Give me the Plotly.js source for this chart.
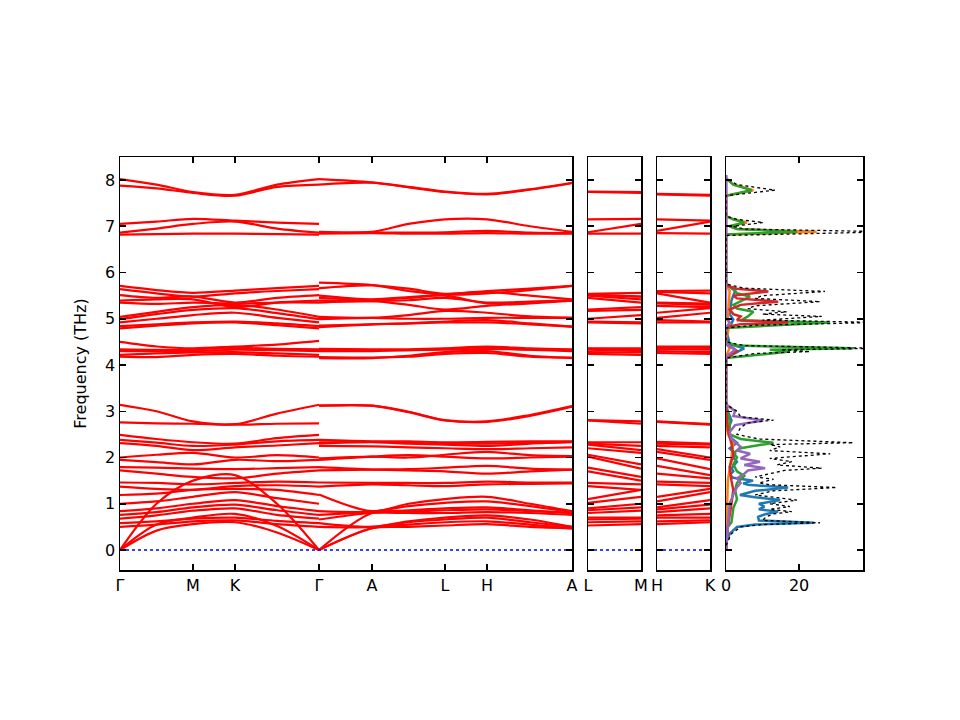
<!DOCTYPE html>
<html><head><meta charset="utf-8">
<script src="https://cdn.plot.ly/plotly-3.0.1.min.js"></script>
<style>body{margin:0;background:#fff}#c{width:960px;height:720px}</style>
</head><body><div id="c"></div>
<script>
// path positions (high-symmetry points) for Γ-M-K-Γ and Γ-A-L-H-A
const xGMKG = [0, 0.365, 0.73, 1.15, 1.57, 1.99];
const xGALHA = [1.99, 2.52, 2.885, 3.25, 3.67, 4.1, 4.52];
const xSide = [0, 0.53];
const tickPos1 = [0, 0.73, 1.15, 1.99, 2.52, 3.25, 3.67, 4.52];
const tickLab1 = ['Γ', 'M', 'K', 'Γ', 'A', 'L', 'H', 'A'];
const tickLabLM = ['L', 'M'];
const tickLabHK = ['H', 'K'];
const freqTicks = [0, 1, 2, 3, 4, 5, 6, 7, 8];
const dosTicks = [0, 20, 40];

// band frequencies (THz) at Γ, mid, M, K, mid, Γ
const bandsGMKG = [
 [0, 0.42, 0.56, 0.6, 0.38, 0],
 [0, 0.55, 0.7, 0.78, 0.52, 0],
 [0, 1.0, 1.5, 1.62, 1.0, 0],
 [0.5, 0.55, 0.62, 0.64, 0.56, 0.5],
 [0.58, 0.62, 0.68, 0.7, 0.63, 0.58],
 [0.68, 0.75, 0.85, 0.9, 0.76, 0.68],
 [0.76, 0.82, 0.92, 0.98, 0.86, 0.76],
 [0.84, 0.9, 1.0, 1.08, 0.95, 0.84],
 [1.0, 1.05, 1.15, 1.25, 1.12, 1.0],
 [1.19, 1.22, 1.3, 1.32, 1.3, 1.19],
 [1.37, 1.32, 1.3, 1.38, 1.4, 1.37],
 [1.46, 1.45, 1.42, 1.45, 1.48, 1.46],
 [1.72, 1.65, 1.58, 1.55, 1.65, 1.72],
 [1.79, 1.78, 1.76, 1.75, 1.77, 1.79],
 [1.95, 1.9, 1.85, 1.95, 1.92, 1.95],
 [2.0, 2.06, 2.1, 2.0, 2.05, 2.0],
 [2.31, 2.25, 2.16, 2.22, 2.26, 2.31],
 [2.38, 2.32, 2.25, 2.28, 2.35, 2.38],
 [2.49, 2.4, 2.33, 2.3, 2.42, 2.49],
 [2.76, 2.74, 2.73, 2.71, 2.73, 2.74],
 [3.14, 3.0, 2.78, 2.72, 2.95, 3.14],
 [4.18, 4.17, 4.22, 4.24, 4.2, 4.18],
 [4.22, 4.25, 4.27, 4.28, 4.25, 4.22],
 [4.3, 4.3, 4.3, 4.33, 4.32, 4.3],
 [4.34, 4.33, 4.34, 4.37, 4.35, 4.34],
 [4.5, 4.4, 4.36, 4.4, 4.44, 4.52],
 [4.79, 4.85, 4.9, 4.92, 4.86, 4.79],
 [4.84, 4.88, 4.92, 4.94, 4.9, 4.84],
 [4.92, 5.0, 5.08, 5.13, 5.02, 4.92],
 [4.99, 5.1, 5.19, 5.23, 5.12, 4.99],
 [5.04, 5.15, 5.25, 5.3, 5.2, 5.04],
 [5.35, 5.32, 5.35, 5.33, 5.35, 5.35],
 [5.39, 5.42, 5.42, 5.25, 5.35, 5.39],
 [5.51, 5.45, 5.48, 5.35, 5.45, 5.51],
 [5.64, 5.55, 5.48, 5.55, 5.6, 5.64],
 [5.71, 5.62, 5.56, 5.61, 5.66, 5.71],
 [6.82, 6.83, 6.84, 6.84, 6.83, 6.82],
 [6.86, 6.95, 7.05, 7.1, 6.95, 6.86],
 [7.05, 7.1, 7.16, 7.12, 7.08, 7.05],
 [7.88, 7.82, 7.72, 7.66, 7.85, 7.9],
 [8.02, 7.9, 7.74, 7.68, 7.9, 8.02]
];
// band frequencies (THz) at Γ, A, mid, L, H, mid, A
const bandsGALHA = [
 [0, 0.47, 0.5, 0.53, 0.56, 0.5, 0.47],
 [0, 0.47, 0.55, 0.6, 0.62, 0.55, 0.47],
 [0, 0.8, 0.83, 0.86, 0.88, 0.84, 0.8],
 [0.5, 0.5, 0.6, 0.66, 0.7, 0.6, 0.5],
 [0.58, 0.5, 0.62, 0.7, 0.75, 0.66, 0.5],
 [0.66, 0.8, 0.8, 0.8, 0.82, 0.8, 0.76],
 [0.76, 0.82, 0.86, 0.9, 0.92, 0.86, 0.8],
 [0.84, 0.83, 0.95, 1.02, 1.05, 0.95, 0.82],
 [1.2, 0.84, 1.0, 1.1, 1.15, 1.0, 0.84],
 [1.37, 1.42, 1.4, 1.38, 1.42, 1.43, 1.44],
 [1.46, 1.45, 1.45, 1.45, 1.48, 1.46, 1.46],
 [1.72, 1.74, 1.75, 1.78, 1.82, 1.76, 1.74],
 [1.79, 1.74, 1.72, 1.7, 1.65, 1.7, 1.74],
 [1.95, 2.02, 2.05, 2.02, 1.98, 2.0, 2.02],
 [1.98, 2.02, 2.0, 2.06, 2.12, 2.05, 2.03],
 [2.25, 2.24, 2.22, 2.2, 2.18, 2.2, 2.22],
 [2.3, 2.33, 2.3, 2.28, 2.25, 2.3, 2.33],
 [2.33, 2.34, 2.32, 2.3, 2.3, 2.32, 2.34],
 [2.38, 2.35, 2.35, 2.33, 2.34, 2.35, 2.35],
 [3.12, 3.12, 2.98, 2.8, 2.77, 2.9, 3.1],
 [3.12, 3.12, 2.99, 2.81, 2.78, 2.92, 3.11],
 [4.15, 4.15, 4.2, 4.28, 4.3, 4.2, 4.15],
 [4.17, 4.16, 4.18, 4.24, 4.26, 4.18, 4.16],
 [4.3, 4.3, 4.32, 4.35, 4.38, 4.33, 4.3],
 [4.33, 4.32, 4.32, 4.33, 4.35, 4.33, 4.32],
 [4.35, 4.34, 4.34, 4.36, 4.4, 4.36, 4.34],
 [4.82, 4.88, 4.9, 4.92, 4.92, 4.88, 4.83],
 [4.85, 4.88, 4.9, 4.94, 4.97, 4.9, 4.83],
 [4.99, 5.02, 5.0, 5.0, 5.02, 5.02, 5.02],
 [5.04, 5.02, 5.08, 5.17, 5.13, 5.05, 5.02],
 [5.35, 5.38, 5.3, 5.2, 5.28, 5.33, 5.39],
 [5.39, 5.38, 5.4, 5.45, 5.35, 5.37, 5.39],
 [5.45, 5.41, 5.45, 5.5, 5.33, 5.36, 5.4],
 [5.5, 5.42, 5.47, 5.52, 5.58, 5.5, 5.42],
 [5.66, 5.72, 5.6, 5.52, 5.55, 5.62, 5.71],
 [5.78, 5.73, 5.65, 5.54, 5.6, 5.65, 5.71],
 [6.84, 6.85, 6.84, 6.84, 6.85, 6.84, 6.84],
 [6.86, 6.87, 6.86, 6.87, 6.9, 6.86, 6.85],
 [6.88, 6.88, 7.05, 7.15, 7.15, 7.0, 6.88],
 [7.9, 7.94, 7.84, 7.74, 7.69, 7.79, 7.93],
 [8.02, 7.95, 7.85, 7.75, 7.7, 7.8, 7.94]
];
const zeroFreq = [0, 0];

// projected DOS: frequency (THz) and DOS values per species
const fBlue = [0,0.15,0.35,0.5,0.55,0.59,0.64,0.72,0.78,0.83,0.88,0.94,1.0,1.08,1.14,1.19,1.28,1.35,1.41,1.44,1.5,1.56,1.62,1.7,1.77,1.91,2.0,2.08,2.2,2.32,2.45,2.6,2.8,3.0,3.15,4.15,4.3,4.36,4.45,4.8,4.9,4.98,5.1,5.4,5.6,5.75,8.1];
const dBlue = [0,0,1,3,8,23.9,9,8.8,11,14.3,9,10.5,9,14.8,8,3.8,8,17,6,4.7,7.4,2,1,2,1.5,3,2,2.5,1,3,1,0.5,1.5,0.5,0,0,3.5,5,1,0,1.5,2,1,1.5,2.5,0,0];
const fOrange = [0,1.5,1.75,2.0,2.3,2.5,3.1,4.2,4.36,4.5,4.9,5.0,5.6,5.75,6.82,6.88,6.94,7.0,7.08,7.15,7.22,7.66,7.78,7.9,8.04];
const dOrange = [0,0.5,1,1.5,2,0.5,0,0,1,0,1,0.5,1,0,0,24.8,3,1,5.7,2,0,0,7.5,2,0];
const fGreen = [0,0.5,0.6,0.9,1.1,1.3,1.45,1.6,1.7,1.85,2.0,2.1,2.2,2.32,2.4,2.5,2.8,3.1,4.15,4.29,4.33,4.36,4.42,4.5,4.8,4.92,4.96,5.05,5.15,5.22,5.3,5.48,5.55,5.65,5.75,6.82,6.88,6.94,7.0,7.08,7.15,7.22,7.66,7.78,7.9,8.04];
const dGreen = [0,0.5,1.5,2,3,2.5,3,5,3,2,3,2,4,13,4,1,1,0,0,17.5,12,34.9,3,0,0,28.5,4,6,7.5,3,2,6.6,3,2,0,0,19.4,3,1,5,2,0,0,7,2,0];
const fRed = [0,0.5,1.0,1.3,1.5,1.8,2.05,2.3,2.6,3.1,4.15,4.3,4.36,4.45,4.82,4.88,4.92,4.97,5.05,5.1,5.2,5.3,5.37,5.44,5.5,5.59,5.65,5.72,8.1];
const dRed = [0,0.5,1.5,2,1.5,1,2,1.5,0.5,0,0,3,2,0,0,4,17,3,4,2,1,4,14.3,3,2,11.6,3,0,0];
const fPurple = [0,0.6,1.0,1.2,1.36,1.45,1.55,1.65,1.72,1.77,1.84,1.91,1.98,2.08,2.15,2.23,2.3,2.4,2.55,2.7,2.8,2.9,3.0,3.08,3.15,4.18,4.33,4.45,4.8,4.92,5.0,5.7,8.1];
const dPurple = [0,0.5,1,2,3,4,3,5,6,10.7,5,9.3,4,6.6,3,4,3,1.5,1,2.5,10.2,2,2.5,1,0,0,2.5,0,0,1,0,0,0];
const fTotal = [0.1,0.35,0.5,0.55,0.59,0.64,0.72,0.78,0.83,0.88,0.94,1.0,1.08,1.14,1.19,1.28,1.35,1.41,1.45,1.53,1.58,1.65,1.72,1.77,1.84,1.91,1.98,2.08,2.15,2.23,2.28,2.32,2.4,2.5,2.65,2.75,2.81,2.88,3.0,3.1,3.18,4.15,4.25,4.29,4.33,4.36,4.42,4.5,4.8,4.86,4.92,4.97,5.05,5.1,5.15,5.22,5.28,5.37,5.44,5.5,5.59,5.66,5.75,6.8,6.88,6.94,7.0,7.08,7.15,7.22,7.66,7.78,7.9,8.04];
const dTotal = [0,1.5,4,10,25.7,10,11,13,18,12,17.5,12,19.4,13,8,13,30.3,12,9,13,8,12,16,26.2,14,18,12,28.5,12,14.8,12,34.9,9,3,4,6,13,4,3,1,0,0,8,23,15,42,5,0,0,8,42,10,26.2,10,16.6,6,8,25.8,8,10,27.1,5,0,0,45,5,2,10.2,3,0,0,13.4,3,0];

const FONT = 'DejaVu Sans';
const traces = [];
const bandLine = {color: 'red', width: 2.2, shape: 'spline', smoothing: 0.9};
bandsGMKG.forEach(b => traces.push({x: xGMKG, y: b, xaxis: 'x', yaxis: 'y', mode: 'lines', line: bandLine, hoverinfo: 'skip'}));
bandsGALHA.forEach(b => traces.push({x: xGALHA, y: b, xaxis: 'x', yaxis: 'y', mode: 'lines', line: bandLine, hoverinfo: 'skip'}));
// L -> M panel and H -> K panel (bands joined in order of frequency)
const byNum = (a, b) => a - b;
const atL = bandsGALHA.map(b => b[3]).sort(byNum);
const atH = bandsGALHA.map(b => b[4]).sort(byNum);
const atM = bandsGMKG.map(b => b[2]).sort(byNum);
const atK = bandsGMKG.map(b => b[3]).sort(byNum);
atL.forEach((v, i) => traces.push({x: xSide, y: [v, atM[i]], xaxis: 'x2', yaxis: 'y2', mode: 'lines', line: {color: 'red', width: 2.2}, hoverinfo: 'skip'}));
atH.forEach((v, i) => traces.push({x: xSide, y: [v, atK[i]], xaxis: 'x3', yaxis: 'y3', mode: 'lines', line: {color: 'red', width: 2.2}, hoverinfo: 'skip'}));
const zl = {color: '#0000ee', width: 1.3, dash: 'dot'};
traces.push({x: [xGMKG[0], xGALHA[xGALHA.length - 1]], y: zeroFreq, xaxis: 'x', yaxis: 'y', mode: 'lines', line: zl});
traces.push({x: xSide, y: zeroFreq, xaxis: 'x2', yaxis: 'y2', mode: 'lines', line: zl});
traces.push({x: xSide, y: zeroFreq, xaxis: 'x3', yaxis: 'y3', mode: 'lines', line: zl});
// DOS
const dosSets = [[dBlue, fBlue, '#1f77b4'], [dOrange, fOrange, '#ff7f0e'], [dGreen, fGreen, '#2ca02c'], [dRed, fRed, '#d62728'], [dPurple, fPurple, '#9467bd']];
dosSets.forEach(s => traces.push({x: s[0], y: s[1], xaxis: 'x4', yaxis: 'y4', mode: 'lines', line: {color: s[2], width: 2.5}}));
traces.push({x: dTotal, y: fTotal, xaxis: 'x4', yaxis: 'y4', mode: 'lines', line: {color: 'black', width: 1.3, dash: 'dot'}});

const yRange = [-0.432, 8.497];
const axBase = {showline: true, linecolor: 'black', linewidth: 1.5, mirror: 'allticks', ticks: 'inside', ticklen: 6, tickwidth: 1.5, tickcolor: 'black', showgrid: false, zeroline: false, tickfont: {family: FONT, size: 16, color: 'black'}, fixedrange: true};
const yD = [150 / 720, 563 / 720];
const layout = {
  width: 960, height: 720, showlegend: false,
  paper_bgcolor: 'white', plot_bgcolor: 'white',
  margin: {l: 0, r: 0, t: 0, b: 0},
  font: {family: FONT, size: 16, color: 'black'},
  xaxis: Object.assign({}, axBase, {domain: [120 / 960, 572 / 960], range: [0, 4.52], tickmode: 'array', tickvals: tickPos1, ticktext: tickLab1, anchor: 'y'}),
  xaxis2: Object.assign({}, axBase, {domain: [588 / 960, 641 / 960], range: xSide, tickmode: 'array', tickvals: xSide, ticktext: tickLabLM, anchor: 'y2'}),
  xaxis3: Object.assign({}, axBase, {domain: [657 / 960, 710 / 960], range: xSide, tickmode: 'array', tickvals: xSide, ticktext: tickLabHK, anchor: 'y3'}),
  xaxis4: Object.assign({}, axBase, {domain: [726 / 960, 863 / 960], range: [0, 37.5], tickmode: 'array', tickvals: dosTicks, anchor: 'y4'}),
  yaxis: Object.assign({}, axBase, {domain: yD, range: yRange, tickmode: 'array', tickvals: freqTicks, anchor: 'x', title: {text: 'Frequency (THz)', font: {family: FONT, size: 16, color: 'black'}, standoff: 14}}),
  yaxis2: Object.assign({}, axBase, {domain: yD, range: yRange, tickmode: 'array', tickvals: freqTicks, showticklabels: false, anchor: 'x2'}),
  yaxis3: Object.assign({}, axBase, {domain: yD, range: yRange, tickmode: 'array', tickvals: freqTicks, showticklabels: false, anchor: 'x3'}),
  yaxis4: Object.assign({}, axBase, {domain: yD, range: yRange, tickmode: 'array', tickvals: freqTicks, showticklabels: false, anchor: 'x4'})
};
Plotly.newPlot('c', traces, layout, {staticPlot: true, displayModeBar: false});
</script>
</body></html>
